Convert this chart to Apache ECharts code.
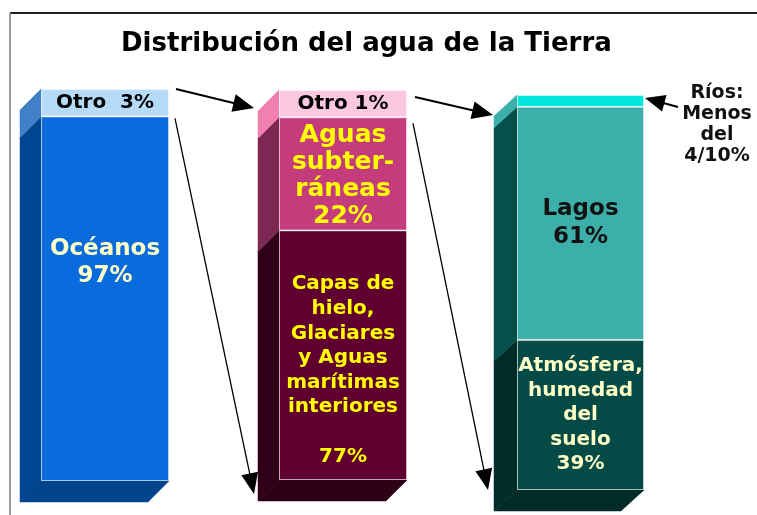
<!DOCTYPE html>
<html>
<head>
<meta charset="utf-8">
<script src="https://cdn.jsdelivr.net/npm/echarts@6/dist/echarts.min.js"></script>
<style>html,body{margin:0;padding:0;background:#fff;}#c{width:757px;height:515px;}</style>
</head>
<body>
<div id="c"></div>
<script>
// ---------- data ----------
const TITLE = 'Distribución del agua de la Tierra';
const CATEGORY = ['columna'];

// Column 1: all water on Earth
const oceanNames = ['Océanos', 'Otro'];
const oceanPct = ['97%', '3%'];
const oceanShown = [93, 7];          // share of the column height as drawn

// Column 2: fresh water ("Otro" of column 1)
const freshNames = ['Capas de\nhielo,\nGlaciares\ny Aguas\nmarítimas\ninteriores\n', 'Aguas\nsubter-\nráneas', 'Otro'];
const freshPct = ['77%', '22%', '1%'];
const freshShown = [64, 29, 7];

// Column 3: surface fresh water ("Otro" of column 2)
const surfNames = ['Atmósfera,\nhumedad\ndel\nsuelo', 'Lagos', 'Ríos:\nMenos\ndel'];
const surfPct = ['39%', '61%', '4/10%'];
const surfShown = [38, 59, 3];

// ---------- style / layout ----------
const FONT = 'DejaVu Sans';
const columns = [
  { names: oceanNames, pct: oceanPct, shown: oceanShown,
    grid: {left: 41, top: 89, width: 128, height: 392}, depth: [-21, 21],
    front: ['#0A6CDC', '#B6DBF8'], side: ['#00458F', '#3F80C8'], bottom: '#00448C',
    labels: [
      {sep: '\n', color: '#FFFFC8', fontSize: 23, lineHeight: 27, offset: [0, -36]},
      {sep: '  ', color: '#000', fontSize: 20, lineHeight: 22, offset: [0, 0]}
    ] },
  { names: freshNames, pct: freshPct, shown: freshShown,
    grid: {left: 279, top: 90, width: 128, height: 390}, depth: [-21, 21],
    front: ['#600030', '#C43C7C', '#FCC8E0'], side: ['#300018', '#7C2852', '#F080B0'], bottom: '#2E0016',
    labels: [
      {sep: '\n', color: '#FFFF00', fontSize: 20, lineHeight: 24.6, offset: [0, 15]},
      {sep: '\n', color: '#FFFF00', fontSize: 25, lineHeight: 27, offset: [0, 2]},
      {sep: ' ', color: '#000', fontSize: 20, lineHeight: 22, offset: [0, 0]}
    ] },
  { names: surfNames, pct: surfPct, shown: surfShown,
    grid: {left: 517, top: 95, width: 127, height: 395}, depth: [-23, 21],
    front: ['#044A46', '#3CAFAA', '#00E6DC'], side: ['#022C28', '#05504A', '#3CB0AA'], bottom: '#022A26',
    labels: [
      {sep: '\n', color: '#FFFFC8', fontSize: 20, lineHeight: 24.5, offset: [0, 0]},
      {sep: '\n', color: '#111', fontSize: 23, lineHeight: 28, offset: [0, 0]},
      {sep: '\n', color: '#111', fontSize: 19, lineHeight: 21, position: [200, 30]}
    ] }
];

const grids = [], xAxes = [], yAxes = [], series = [];
columns.forEach((col, i) => {
  grids.push(Object.assign({containLabel: false}, col.grid));
  xAxes.push({gridIndex: i, type: 'category', data: CATEGORY, show: false});
  yAxes.push({gridIndex: i, type: 'value', min: 0, max: 100, show: false});
  // side and bottom faces
  const sideData = [];
  let acc = 0;
  col.shown.forEach((v, j) => { sideData.push([0, acc, acc + v, j]); acc += v; });
  const dx = col.depth[0], dy = col.depth[1];
  series.push({
    type: 'custom', xAxisIndex: i, yAxisIndex: i, silent: true, clip: false,
    encode: {x: 0, y: [1, 2]}, data: sideData, z: 1,
    renderItem: function (params, api) {
      const s = api.value(1), e = api.value(2), j = api.value(3);
      const pT = api.coord([0, e]), pB = api.coord([0, s]);
      const w = api.size([1, 0])[0];
      const x0 = pT[0] - w / 2, x1 = pT[0] + w / 2;
      const children = [{
        type: 'polygon',
        shape: {points: [[x0, pT[1]], [x0 + dx, pT[1] + dy], [x0 + dx, pB[1] + dy], [x0, pB[1]]]},
        style: {fill: col.side[j], stroke: col.side[j], lineWidth: 0.5}
      }];
      if (s === 0) {
        children.push({
          type: 'polygon',
          shape: {points: [[x0, pB[1]], [x1, pB[1]], [x1 + dx, pB[1] + dy], [x0 + dx, pB[1] + dy]]},
          style: {fill: col.bottom, stroke: col.bottom, lineWidth: 0.5}
        });
      }
      return {type: 'group', children: children};
    }
  });
  // front faces
  col.shown.forEach((v, j) => {
    const L = col.labels[j];
    const label = {
      show: true, formatter: col.names[j] + L.sep + col.pct[j],
      color: L.color, fontSize: L.fontSize, lineHeight: L.lineHeight,
      fontFamily: FONT, fontWeight: 'bold', align: 'center', verticalAlign: 'middle'
    };
    if (L.position) { label.position = L.position; }
    else { label.position = 'inside'; label.offset = L.offset; }
    series.push({
      type: 'bar', xAxisIndex: i, yAxisIndex: i, stack: 'col' + i, barWidth: '100%',
      data: [v], silent: true, z: 2,
      itemStyle: {color: col.front[j], borderColor: 'rgba(255,255,255,0.45)', borderWidth: 1},
      label: label
    });
  });
});

const chart = echarts.init(document.getElementById('c'), null, {renderer: 'canvas'});
chart.setOption({
  animation: false,
  backgroundColor: '#fff',
  title: {text: TITLE, left: 116, top: 26,
    textStyle: {fontFamily: FONT, fontWeight: 'bold', fontSize: 26, color: '#000'}},
  grid: grids, xAxis: xAxes, yAxis: yAxes, series: series
});

// ---------- annotations (arrows, frame) anchored on the columns ----------
function rect(i) {
  const g = columns[i].grid;
  const top = chart.convertToPixel({gridIndex: i}, [0, 100])[1];
  const bot = chart.convertToPixel({gridIndex: i}, [0, 0])[1];
  return {x0: g.left, x1: g.left + g.width, top: top, bot: bot};
}
function yAt(i, v) { return chart.convertToPixel({gridIndex: i}, [0, v])[1]; }
function arrow(from, to, lw, L, hw) {
  const dx = to[0] - from[0], dy = to[1] - from[1];
  const len = Math.hypot(dx, dy), ux = dx / len, uy = dy / len;
  const bx = to[0] - ux * L, by = to[1] - uy * L;
  const px = -uy, py = ux;
  return [
    {type: 'line', shape: {x1: from[0], y1: from[1], x2: bx + ux * 2, y2: by + uy * 2}, style: {stroke: '#000', lineWidth: lw}, z: 10},
    {type: 'polygon', shape: {points: [to, [bx + px * hw, by + py * hw], [bx - px * hw, by - py * hw]]}, style: {fill: '#000'}, z: 10}
  ];
}
const r1 = rect(0), r2 = rect(1), r3 = rect(2);
const otro1Bottom = yAt(0, oceanShown[0]);
const otro2Bottom = yAt(1, freshShown[0] + freshShown[1]);
let graphics = [
  {type: 'line', shape: {x1: 10, y1: 13, x2: 757, y2: 13}, style: {stroke: '#222', lineWidth: 2}},
  {type: 'line', shape: {x1: 10, y1: 13, x2: 10, y2: 515}, style: {stroke: '#999', lineWidth: 2}}
];
graphics = graphics
  .concat(arrow([r1.x1 + 7, r1.top], [r2.x0 - 25, r2.top + 18], 2, 21, 9))
  .concat(arrow([r1.x1 + 6, otro1Bottom + 2], [r2.x0 - 25, r2.bot + 14], 1.3, 21, 8.5))
  .concat(arrow([r2.x1 + 8, r2.top + 7], [r3.x0 - 24, r3.top + 20], 2, 21, 9))
  .concat(arrow([r2.x1 + 6, otro2Bottom + 6], [r3.x0 - 29, r3.bot], 1.3, 21, 8.5))
  .concat(arrow([r3.x1 + 34, r3.top + 12], [r3.x1 + 1, r3.top + 3], 2, 20, 8.5));
chart.setOption({graphic: graphics});
</script>
</body>
</html>
